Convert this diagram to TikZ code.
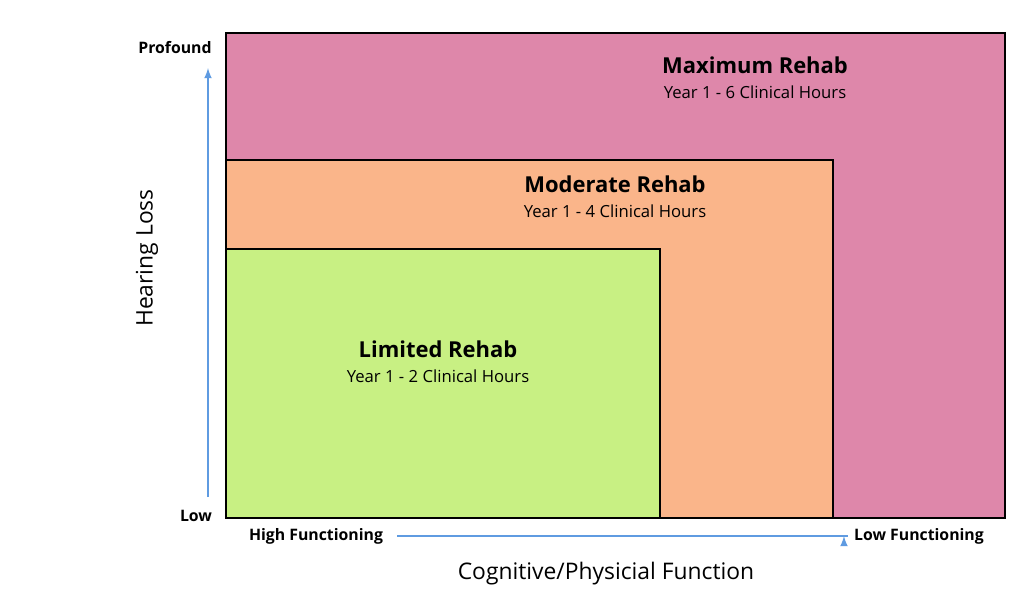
\documentclass[tikz,border=0pt]{standalone}
\usepackage{fontspec}
\setmainfont{Open Sans}
\usetikzlibrary{positioning}
\definecolor{maxpink}{RGB}{222,135,170}
\definecolor{modorange}{RGB}{250,181,138}
\definecolor{limgreen}{RGB}{200,240,131}
\definecolor{axisblue}{RGB}{95,155,225}
\begin{document}
\begin{tikzpicture}[x=0.02cm, y=-0.02cm, >=latex]
\tikzset{
    zone/.style={draw, line width=1.2pt},
    title/.style={font=\fontsize{12.5}{14}\selectfont\bfseries},
    hours/.style={font=\fontsize{9.5}{11}\selectfont},
    tick/.style={font=\fontsize{9}{11}\selectfont\bfseries},
    axis/.style={->, axisblue, line width=1pt}
}
\useasboundingbox (0,0) rectangle (1024,603);

\draw[zone, fill=maxpink] (226,33) rectangle (1005,518);
\draw[zone, fill=modorange] (226,160) rectangle (833,518);
\draw[zone, fill=limgreen] (226,249) rectangle (660,518);

\node[title] (max) at (755,65) {Maximum Rehab};
\node[hours, below=0pt of max] (max-h) {Year 1 - 6 Clinical Hours};
\node[title] (mod) at (615,184) {Moderate Rehab};
\node[hours, below=0pt of mod] (mod-h) {Year 1 - 4 Clinical Hours};
\node[title] (lim) at (438,349) {Limited Rehab};
\node[hours, below=0pt of lim] (lim-h) {Year 1 - 2 Clinical Hours};

\node[tick] (profound) at (175,48) {Profound};
\node[tick] (low) at (196,516) {Low};
\node[font=\fontsize{13}{15}\selectfont, rotate=90] (hearing) at (147,258) {Hearing Loss};
\coordinate (v-start) at (208,497);
\coordinate (v-end) at (208,68);
\draw[axis] (v-start) -- (v-end);

\node[tick] (high-f) at (316,536) {High Functioning};
\node[tick] (low-f) at (919,536) {Low Functioning};
\node[font=\fontsize{13}{15}\selectfont] (cog) at (606,574) {Cognitive/Physicial Function};
\draw[axis] (high-f.east) ++(8,0) coordinate (h-start) -- (low-f.west) ++(-4,0);
\end{tikzpicture}
\end{document}
